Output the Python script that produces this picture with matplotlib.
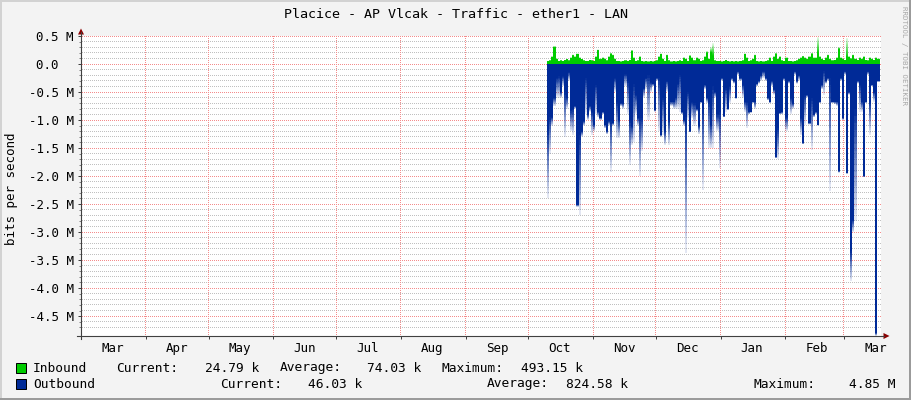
import numpy as np
import matplotlib
matplotlib.use("Agg")
import matplotlib.pyplot as plt
import matplotlib.dates as mdates
from matplotlib.patches import Rectangle, Polygon
from matplotlib.lines import Line2D
from matplotlib.ticker import NullFormatter, FixedLocator
from datetime import datetime, timedelta

# ---------------- data (Mbit/s, one value per day from 2020-10-10) ----------------
series_start = datetime(2020, 10, 10)

# outbound: solid (dense) depth and faded tip depth
out_solid = np.array([
    1.2, 0.95, 0.95, 0.6, 0.25, 0.22, 0.5, 0.22, 0.5, 0.6,
    0.15, 0.82, 0.8, 0.75, 2.51, 1.26, 1.2, 1.02, 0.25, 0.9,
    0.75, 0.85, 1.08, 0.37, 0.85, 0.96, 0.85, 1.08, 1.2, 1.02,
    1.02, 1.05, 0.25, 0.67, 1.0, 0.7, 0.7, 0.18, 0.31, 1.0,
    1.1, 0.35, 0.55, 0.96, 0.96, 0.96, 0.43, 0.25, 0.2, 0.33,
    0.35, 0.82, 0.25, 0.25, 1.26, 0.6, 1.2, 0.3, 1.0, 0.67,
    0.67, 0.6, 0.35, 0.19, 0.85, 1.0, 0.95, 0.5, 1.2, 0.67,
    0.7, 0.8, 1.1, 0.67, 0.8, 0.37, 0.6, 0.67, 1.08, 0.4,
    0.5, 0.9, 0.85, 0.25, 0.93, 0.43, 0.8, 0.4, 0.25, 0.3,
    0.6, 0.13, 0.25, 0.37, 0.67, 0.67, 0.85, 0.85, 0.67, 0.67,
    0.35, 0.3, 0.2, 0.13, 0.25, 0.6, 0.67, 0.3, 0.45, 1.66,
    1.14, 0.87, 0.85, 0.25, 0.95, 0.3, 0.6, 0.7, 0.13, 0.3,
    0.2, 0.96, 1.41, 0.55, 0.55, 1.05, 0.6, 0.9, 0.85, 1.08,
    0.67, 0.37, 0.13, 0.3, 0.25, 0.25, 0.67, 0.67, 0.67, 1.91,
    0.25, 0.96, 0.13, 1.94, 0.5, 3.34, 2.78, 0.8, 0.3, 0.37,
    0.67, 2.0, 0.67, 0.13, 0.67, 0.37, 0.5, 4.8, 0.3])
out_tip = np.array([
    2.4, 1.6, 1.1, 0.75, 0.6, 0.6, 0.6, 0.4, 1.3, 0.8,
    0.3, 1.2, 1.26, 0.8, 2.55, 2.69, 1.3, 1.1, 0.9, 1.0,
    0.85, 1.26, 1.2, 0.9, 0.95, 1.0, 0.9, 1.15, 1.25, 1.1,
    1.92, 1.1, 0.5, 1.32, 1.32, 0.75, 0.8, 0.4, 0.9, 1.8,
    1.45, 1.4, 0.9, 1.1, 2.0, 1.55, 0.6, 0.45, 1.0, 0.5,
    0.4, 0.85, 0.3, 1.2, 1.3, 1.26, 1.45, 0.5, 1.44, 0.75,
    0.8, 0.8, 0.8, 0.85, 0.9, 1.1, 3.37, 1.0, 1.22, 0.97,
    1.1, 0.85, 1.25, 0.7, 2.24, 0.45, 0.7, 1.5, 1.5, 1.5,
    0.6, 1.2, 1.85, 0.3, 0.95, 0.85, 0.82, 0.7, 0.3, 0.35,
    0.62, 0.2, 0.3, 0.6, 0.85, 1.14, 0.9, 0.87, 0.7, 0.8,
    0.4, 0.35, 0.3, 0.25, 0.3, 0.65, 0.7, 0.4, 0.55, 1.68,
    1.7, 0.9, 0.9, 0.3, 1.2, 0.35, 0.9, 0.8, 0.2, 0.35,
    0.3, 1.26, 1.43, 1.08, 0.6, 1.08, 1.53, 0.95, 0.9, 1.1,
    0.7, 0.45, 0.55, 0.35, 0.3, 2.27, 0.7, 0.72, 0.75, 1.94,
    0.3, 1.0, 0.2, 1.96, 0.55, 3.88, 3.0, 2.8, 0.35, 0.85,
    0.85, 2.02, 0.7, 0.2, 1.26, 0.4, 0.67, 4.85, 0.32])

# inbound: solid height and faded tip height
in_solid = np.array([
    0.05, 0.06, 0.12, 0.30, 0.08, 0.05, 0.06, 0.05, 0.07, 0.08,
    0.06, 0.1, 0.15, 0.12, 0.17, 0.1, 0.08, 0.06, 0.05, 0.05,
    0.07, 0.06, 0.05, 0.12, 0.24, 0.08, 0.1, 0.09, 0.06, 0.12,
    0.18, 0.15, 0.08, 0.05, 0.05, 0.04, 0.05, 0.06, 0.05, 0.07,
    0.23, 0.1, 0.05, 0.06, 0.12, 0.05, 0.04, 0.05, 0.04, 0.05,
    0.04, 0.05, 0.06, 0.12, 0.17, 0.08, 0.05, 0.15, 0.06, 0.04,
    0.05, 0.04, 0.05, 0.06, 0.05, 0.1, 0.08, 0.05, 0.14, 0.1,
    0.06, 0.1, 0.08, 0.05, 0.06, 0.12, 0.2, 0.08, 0.2, 0.15,
    0.06, 0.05, 0.05, 0.04, 0.05, 0.07, 0.05, 0.04, 0.05, 0.04,
    0.05, 0.04, 0.05, 0.06, 0.17, 0.1, 0.05, 0.06, 0.08, 0.15,
    0.05, 0.04, 0.05, 0.04, 0.05, 0.06, 0.1, 0.05, 0.12, 0.18,
    0.08, 0.12, 0.06, 0.05, 0.1, 0.05, 0.05, 0.04, 0.05, 0.06,
    0.08, 0.1, 0.13, 0.1, 0.08, 0.12, 0.18, 0.1, 0.1, 0.2,
    0.12, 0.08, 0.07, 0.1, 0.15, 0.08, 0.06, 0.07, 0.1, 0.27,
    0.1, 0.08, 0.07, 0.12, 0.12, 0.09, 0.15, 0.08, 0.07, 0.1,
    0.08, 0.12, 0.07, 0.06, 0.1, 0.08, 0.07, 0.1, 0.08])
in_tip = np.array([
    0.06, 0.07, 0.14, 0.32, 0.1, 0.06, 0.07, 0.06, 0.08, 0.09,
    0.07, 0.12, 0.17, 0.14, 0.19, 0.12, 0.09, 0.07, 0.06, 0.06,
    0.08, 0.07, 0.06, 0.14, 0.26, 0.1, 0.12, 0.1, 0.07, 0.14,
    0.2, 0.17, 0.1, 0.06, 0.06, 0.05, 0.06, 0.07, 0.06, 0.08,
    0.25, 0.12, 0.06, 0.07, 0.14, 0.06, 0.05, 0.06, 0.05, 0.06,
    0.05, 0.06, 0.07, 0.14, 0.19, 0.1, 0.06, 0.17, 0.07, 0.05,
    0.06, 0.05, 0.06, 0.07, 0.06, 0.12, 0.1, 0.06, 0.16, 0.12,
    0.07, 0.12, 0.1, 0.06, 0.07, 0.14, 0.23, 0.1, 0.3, 0.37,
    0.07, 0.06, 0.06, 0.05, 0.06, 0.08, 0.06, 0.05, 0.06, 0.05,
    0.06, 0.05, 0.06, 0.07, 0.19, 0.12, 0.06, 0.07, 0.1, 0.17,
    0.06, 0.05, 0.06, 0.05, 0.06, 0.07, 0.12, 0.06, 0.14, 0.2,
    0.1, 0.14, 0.07, 0.06, 0.12, 0.06, 0.06, 0.05, 0.06, 0.07,
    0.1, 0.12, 0.15, 0.12, 0.1, 0.14, 0.2, 0.12, 0.12, 0.49,
    0.14, 0.1, 0.08, 0.12, 0.17, 0.1, 0.07, 0.08, 0.12, 0.3,
    0.12, 0.1, 0.08, 0.46, 0.14, 0.11, 0.17, 0.1, 0.08, 0.12,
    0.1, 0.14, 0.08, 0.07, 0.12, 0.1, 0.08, 0.12, 0.1])

ytick_vals = [0.5, 0.0, -0.5, -1.0, -1.5, -2.0, -2.5, -3.0, -3.5, -4.0, -4.5]
ytick_labels = ["0.5 M", "0.0  ", "-0.5 M", "-1.0 M", "-1.5 M", "-2.0 M", "-2.5 M",
                "-3.0 M", "-3.5 M", "-4.0 M", "-4.5 M"]

title = "Placice - AP Vlcak - Traffic - ether1 - LAN"
ylabel = "bits per second"
legend_rows = [
    ("Inbound", "#00CC00", [("Current:", 117), ("24.79 k", 206), ("Average:", 281),
                            ("74.03 k", 368), ("Maximum:", 443), ("493.15 k", 522)]),
    ("Outbound", "#002A97", [("Current:", 221), ("46.03 k", 309), ("Average:", 488),
                             ("824.58 k", 567), ("Maximum:", 754), ("4.85 M", 850)]),
]

# ---------------- figure ----------------
W, H = 911, 400
MONO = "DejaVu Sans Mono"
fig = plt.figure(figsize=(W / 100, H / 100), dpi=100, facecolor="#F3F3F3")


def fx(x):
    return x / W


def fy(y):
    return 1 - y / H


ax_l, ax_r, ax_t, ax_b = 81.0, 881.0, 36.0, 336.0
PW, PH = int(ax_r - ax_l), int(ax_b - ax_t)
ax = fig.add_axes([fx(ax_l), fy(ax_b), PW / W, PH / H])
ax.set_facecolor("white")

blue = "#002A97"
green = "#00CC00"

xmin = mdates.date2num(datetime(2020, 3, 1))
xmax = mdates.date2num(datetime(2021, 3, 18, 17))
ymin, ymax = -4.855, 0.5

# ticks
ax.set_xlim(xmin, xmax)
ax.set_ylim(ymin, ymax)
ax.set_yticks(ytick_vals)
ax.set_yticklabels(ytick_labels, family=MONO, fontsize=9)
minor_vals = [v for v in np.round(np.arange(-4.7, 0.45, 0.1), 2)
              if abs(v * 2 - round(v * 2)) > 1e-6]
ax.yaxis.set_minor_locator(FixedLocator(minor_vals))
ax.xaxis.set_major_locator(mdates.MonthLocator(bymonthday=1))
ax.xaxis.set_major_formatter(NullFormatter())
ax.xaxis.set_minor_locator(mdates.MonthLocator(bymonthday=16))
ax.xaxis.set_minor_formatter(mdates.DateFormatter("%b"))
for lab in ax.get_xticklabels(minor=True):
    lab.set_family(MONO)
ax.tick_params(axis="x", which="minor", length=0, labelsize=9, pad=4)
ax.tick_params(axis="x", which="major", length=2.2, width=0.72, color="#404040")
ax.tick_params(axis="y", which="major", length=2.2, width=0.72, color="#404040",
               pad=3, labelsize=9)
ax.tick_params(axis="y", which="minor", length=1.2, width=0.72, color="#808080")
for s in ax.spines.values():
    s.set_visible(False)

# dotted grid rendered as a pixel raster (1 px dots, 2 px period)
major_rgba = np.array([244, 140, 140, 255]) / 255.0
minor_rgba = np.array([192, 192, 192, 255]) / 255.0
grid = np.zeros((PH, PW, 4))


def row_of(v):
    return int(min(PH - 1, max(0, np.floor((ymax - v) / (ymax - ymin) * PH))))


def col_of(xv):
    return int(min(PW - 1, max(0, np.floor((xv - xmin) / (xmax - xmin) * PW))))


for v in minor_vals:
    grid[row_of(v), 1::2] = minor_rgba
for v in ax.get_yticks():
    grid[row_of(v), 1::2] = major_rgba
for xv in ax.get_xticks():
    if xmin <= xv <= xmax:
        grid[0::2, col_of(xv)] = major_rgba
ax.imshow(grid, extent=(xmin, xmax, ymin, ymax), aspect="auto", interpolation="nearest",
          origin="upper", zorder=1)

x0 = mdates.date2num(series_start)
edges = x0 + np.arange(len(out_solid) + 1)

N = 16
# outbound (drawn negative)
ax.stairs(-out_solid, edges, baseline=0, fill=True, color=blue, lw=0, zorder=3)
for k in range(N):
    t0, t1 = k / N, (k + 1) / N
    lo = out_solid + (out_tip - out_solid) * t0
    hi = out_solid + (out_tip - out_solid) * t1
    a = 1 - 0.92 * (k + 0.5) / N
    ax.stairs(-hi, edges, baseline=-lo, fill=True, color=blue, alpha=a, lw=0, zorder=3)
# inbound
ax.stairs(in_solid, edges, baseline=0, fill=True, color=green, lw=0, zorder=3)
for k in range(N):
    t0, t1 = k / N, (k + 1) / N
    lo = in_solid + (in_tip - in_solid) * t0
    hi = in_solid + (in_tip - in_solid) * t1
    a = 1 - 0.92 * (k + 0.5) / N
    ax.stairs(hi, edges, baseline=lo, fill=True, color=green, alpha=a, lw=0, zorder=3)

ax.set_xlim(xmin, xmax)
ax.set_ylim(ymin, ymax)

# axis lines with arrows
axis_col = "#404040"
arrow_col = "#8B0000"
fig.add_artist(Line2D([fx(77), fx(884)], [fy(ax_b), fy(ax_b)], color=axis_col, lw=0.8,
                      transform=fig.transFigure))
fig.add_artist(Line2D([fx(ax_l), fx(ax_l)], [fy(339), fy(32)], color=axis_col, lw=0.8,
                      transform=fig.transFigure))
fig.add_artist(Polygon([(fx(78.0), fy(34.5)), (fx(84.0), fy(34.5)), (fx(81.0), fy(28.5))],
                       closed=True, color=arrow_col, transform=fig.transFigure, lw=0))
fig.add_artist(Polygon([(fx(883.5), fy(333.0)), (fx(883.5), fy(339.0)), (fx(889.5), fy(336.0))],
                       closed=True, color=arrow_col, transform=fig.transFigure, lw=0))

# texts
fig.text(fx(455.5), fy(14), title, ha="center", va="center", family=MONO, fontsize=9.6,
         color="#000000")
fig.text(fx(12), fy(189), ylabel, ha="center", va="center", rotation=90, family=MONO,
         fontsize=9, color="#000000")
fig.text(fx(904), fy(6), "RRDTOOL / TOBI OETIKER", ha="center", va="top", rotation=270,
         family=MONO, fontsize=5.3, color="#A8A8A8")

# legend
for row, (name, col, items) in enumerate(legend_rows):
    yc = 368 + 16 * row
    fig.add_artist(Rectangle((fx(16), fy(yc + 5)), 10 / W, 10 / H, facecolor=col,
                             edgecolor="#000000", lw=0.72, transform=fig.transFigure))
    fig.text(fx(33), fy(yc), name, ha="left", va="center", family=MONO, fontsize=9.3)
    for txt, xp in items:
        fig.text(fx(xp - 1), fy(yc), txt, ha="left", va="center", family=MONO, fontsize=9.3)

# 3D frame
fig.add_artist(Rectangle((0, fy(2)), 1, 2 / H, facecolor="#D2D2D2", lw=0, transform=fig.transFigure))
fig.add_artist(Rectangle((0, 0), 2 / W, 1, facecolor="#D2D2D2", lw=0, transform=fig.transFigure))
fig.add_artist(Rectangle((0, 0), 1, 2 / H, facecolor="#9B9B9B", lw=0, transform=fig.transFigure))
fig.add_artist(Rectangle((fx(909), 0), 2 / W, 1, facecolor="#9B9B9B", lw=0, transform=fig.transFigure))

fig.savefig("out.png", dpi=100, facecolor=fig.get_facecolor())
